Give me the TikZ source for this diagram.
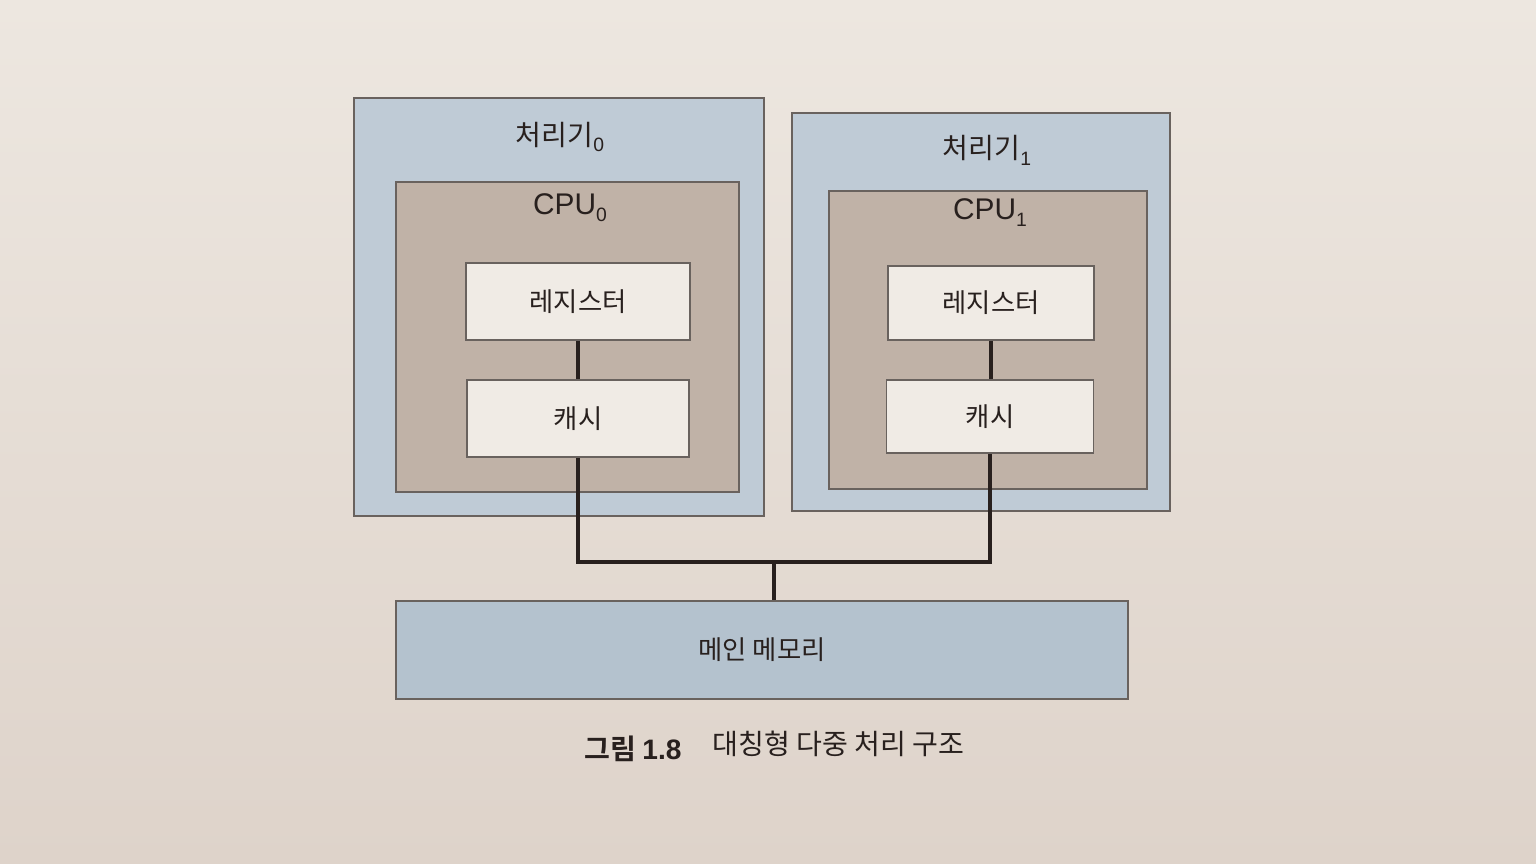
\documentclass[tikz,border=0pt]{standalone}
\usepackage{fontspec}
\setmainfont{Noto Sans CJK KR}
\newfontfamily\krbold{Noto Sans CJK KR Bold}
\newfontfamily\lat{Liberation Sans}
\definecolor{paperA}{RGB}{237,231,224}
\definecolor{paperB}{RGB}{222,211,202}
\definecolor{procblue}{RGB}{191,203,214}
\definecolor{memblue}{RGB}{180,194,206}
\definecolor{cpubrown}{RGB}{192,178,167}
\definecolor{regwhite}{RGB}{240,235,229}
\definecolor{edge}{RGB}{105,98,94}
\definecolor{ink}{RGB}{40,32,30}
\tikzset{
  procbox/.style={draw=edge, line width=1pt, fill=procblue, inner sep=0pt},
  cpubox/.style={draw=edge, line width=1pt, fill=cpubrown, inner sep=0pt},
  unitbox/.style={draw=edge, line width=1pt, fill=regwhite, inner sep=0pt, font=\fontsize{15}{18}\selectfont, text=ink},
  membox/.style={draw=edge, line width=1pt, fill=memblue, inner sep=0pt, font=\fontsize{15}{18}\selectfont, text=ink},
  title/.style={font=\fontsize{16}{19}\selectfont, text=ink, inner sep=0pt},
  cputitle/.style={font=\lat\fontsize{17}{20}\selectfont, text=ink, inner sep=0pt},
  wire/.style={draw=ink, line width=2pt}
}
\newcommand{\sub}[1]{\raisebox{-0.45ex}{\lat\fontsize{11}{12}\selectfont #1}}
\begin{document}
\begin{tikzpicture}[x=0.02cm, y=-0.02cm]
\shade[top color=paperA, bottom color=paperB] (0,0) rectangle (1536,864);
\useasboundingbox (0,0) rectangle (1536,864);

% processors
\node[procbox, minimum width=8.2cm, minimum height=8.36cm] (p0) at (559,307) {};
\node[procbox, minimum width=7.56cm, minimum height=7.96cm] (p1) at (981,312) {};
\node[title] (p0t) at (560,137) {처리기\sub{0}};
\node[title] (p1t) at (987,150) {처리기\sub{1}};

% CPUs
\node[cpubox, minimum width=6.86cm, minimum height=6.2cm] (c0) at (567.5,337) {};
\node[cpubox, minimum width=6.36cm, minimum height=5.96cm] (c1) at (988,340) {};
\node[cputitle] (c0t) at (570,208) {CPU\sub{0}};
\node[cputitle] (c1t) at (990,213) {CPU\sub{1}};

% registers and caches
\node[unitbox, minimum width=4.48cm, minimum height=1.54cm] (r0) at (578,301.5) {레지스터};
\node[unitbox, minimum width=4.44cm, minimum height=1.54cm] (k0) at (578,418.5) {캐시};
\node[unitbox, minimum width=4.12cm, minimum height=1.48cm] (r1) at (991,303) {레지스터};
\node[unitbox, minimum width=4.14cm, minimum height=1.46cm] (k1) at (990,416.5) {캐시};

% main memory
\node[membox, minimum width=14.64cm, minimum height=1.96cm] (mem) at (762,650) {메인 메모리};

% connectors
\coordinate (bus) at (774,562);
\draw[wire] (r0.south) -- (r0.south |- k0.north);
\draw[wire] (r1.south) -- (r1.south |- k1.north);
\draw[wire] (k0.south) |- (bus) -| (k1.south);
\draw[wire] (bus) -- (bus |- mem.north);

% caption
\node[inner sep=0pt, text=ink, font=\fontsize{16}{19}\selectfont] (capn) at (633,749) {{\krbold 그림} {\lat\bfseries 1.8}};
\node[inner sep=0pt, text=ink, font=\fontsize{16}{19}\selectfont, anchor=west] (capt) at (712,744) {대칭형 다중 처리 구조};
\end{tikzpicture}
\end{document}
